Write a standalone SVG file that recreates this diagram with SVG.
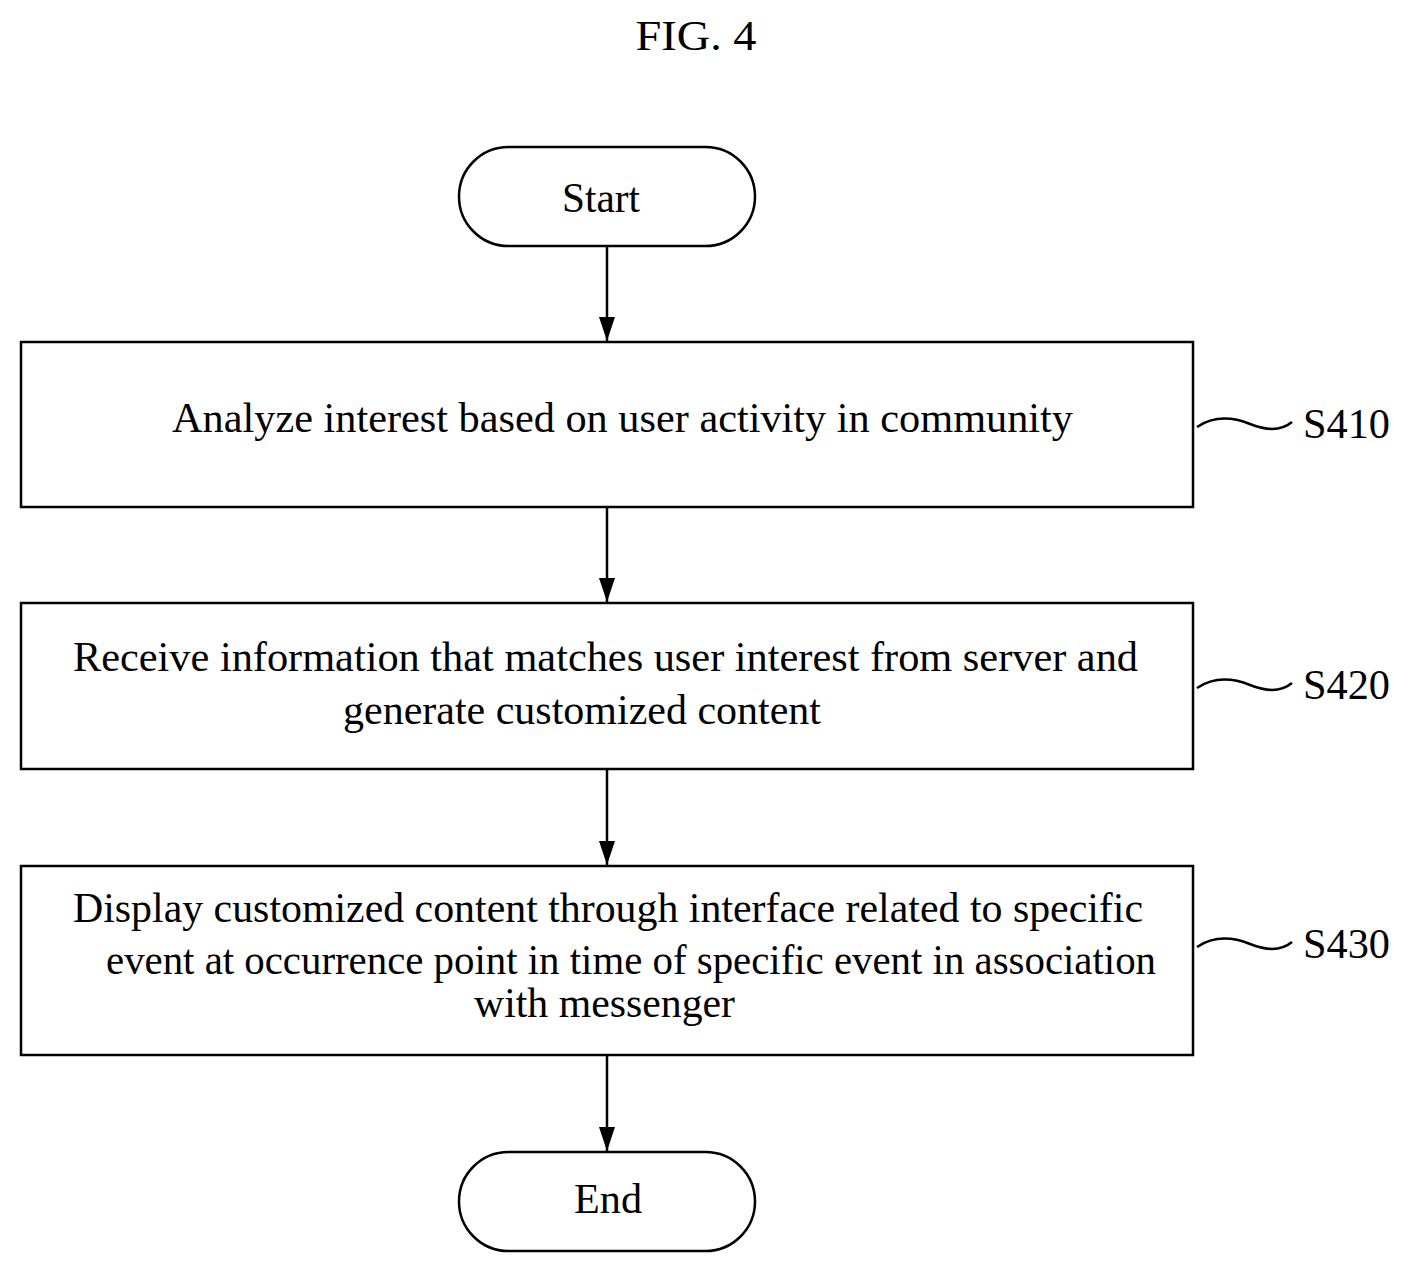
<svg xmlns="http://www.w3.org/2000/svg" width="1409" height="1275" viewBox="0 0 1409 1275">
<defs>
<style>
.b{fill:#fff;stroke:#000;stroke-width:2.5}
.t{font-family:"Liberation Serif",serif;font-size:42px;fill:#000}
.c{fill:none;stroke:#000;stroke-width:2.5}
</style>
<marker id="a" markerWidth="14" markerHeight="20" refX="7" refY="20" orient="auto-start-reverse" markerUnits="userSpaceOnUse" viewBox="0 0 14 20"><path d="M0,0 L14,0 L7,20 Z" fill="#000" transform="rotate(-90 7 10) translate(0 0)"/></marker>
<marker id="v" markerWidth="16" markerHeight="24" refX="8" refY="24" orient="0" markerUnits="userSpaceOnUse"><path d="M0,0 L16,0 L8,24 Z" fill="#000"/></marker>
</defs>
<text class="t" x="696" y="50" text-anchor="middle" textLength="121" lengthAdjust="spacingAndGlyphs">FIG. 4</text>
<g id="start"><rect class="b" x="459" y="147" width="296" height="99" rx="49.5"/><text class="t" x="601" y="212" text-anchor="middle" textLength="78" lengthAdjust="spacingAndGlyphs">Start</text></g>
<g id="s410"><rect class="b" x="21" y="342" width="1172" height="165"/><text class="t" x="172" y="432" textLength="901" lengthAdjust="spacingAndGlyphs">Analyze interest based on  user activity in community</text>
<path class="c" d="M1197,427 C1215,415 1235,418 1250,424 C1265,430 1280,432 1292,422"/><text class="t" x="1303" y="438" textLength="87" lengthAdjust="spacingAndGlyphs">S410</text></g>
<g id="s420"><rect class="b" x="21" y="603" width="1172" height="166"/><text class="t" x="73" y="671" textLength="1065" lengthAdjust="spacingAndGlyphs">Receive information that matches  user interest from server and</text><text class="t" x="343" y="724" textLength="478" lengthAdjust="spacingAndGlyphs">generate customized content</text>
<path class="c" d="M1197,688 C1215,676 1235,679 1250,685 C1265,691 1280,693 1292,683"/><text class="t" x="1303" y="699" textLength="87" lengthAdjust="spacingAndGlyphs">S420</text></g>
<g id="s430"><rect class="b" x="21" y="866" width="1172" height="189"/><text class="t" x="73" y="922" textLength="1070" lengthAdjust="spacingAndGlyphs">Display customized content through interface related to specific</text><text class="t" x="106" y="974" textLength="1050" lengthAdjust="spacingAndGlyphs">event at occurrence point in time of specific event in association</text><text class="t" x="474" y="1017" textLength="261" lengthAdjust="spacingAndGlyphs">with messenger</text>
<path class="c" d="M1197,947 C1215,935 1235,938 1250,944 C1265,950 1280,952 1292,942"/><text class="t" x="1303" y="958" textLength="87" lengthAdjust="spacingAndGlyphs">S430</text></g>
<g id="end"><rect class="b" x="459" y="1152" width="296" height="99" rx="49.5"/><text class="t" x="608" y="1213" text-anchor="middle" textLength="68" lengthAdjust="spacingAndGlyphs">End</text></g>
<g id="connectors">
<path class="c" d="M607,246 V341" marker-end="url(#v)"/>
<path class="c" d="M607,507 V602" marker-end="url(#v)"/>
<path class="c" d="M607,769 V865" marker-end="url(#v)"/>
<path class="c" d="M607,1055 V1151" marker-end="url(#v)"/>
</g>
</svg>
